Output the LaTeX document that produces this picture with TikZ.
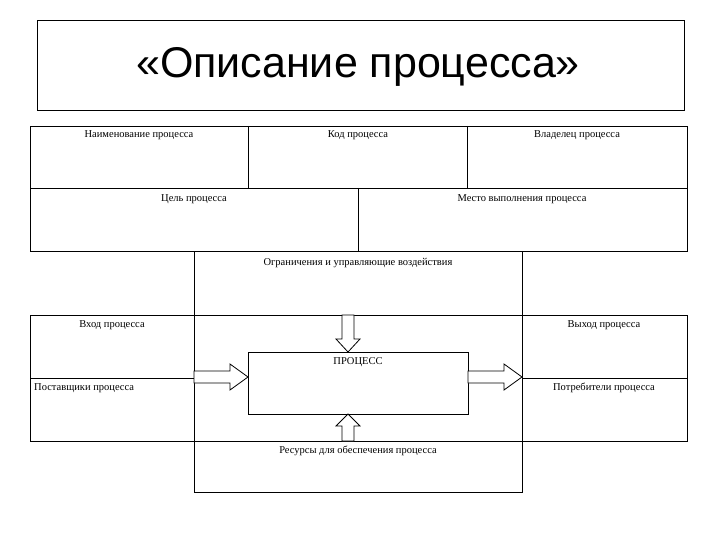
\documentclass[tikz,border=0pt]{standalone}
\usepackage{fontspec}
\setmainfont{Liberation Serif}
\newfontfamily\titlefont{Liberation Sans}
\begin{document}
\begin{tikzpicture}[x=1pt,y=-1pt,
  box/.style={draw,line width=0.8pt},
  lbl/.style={inner sep=0pt,font=\fontsize{10.5}{11}\selectfont},
  barrow/.style={draw,fill=white,line width=0.8pt}]
\useasboundingbox (0,0) rectangle (720,540);
\draw[box] (37,20) rectangle (684,110);
\node[inner sep=0pt,font=\titlefont\fontsize{43}{46}\selectfont] (title) at (358,67) {«Описание процесса»};
% rows
\draw[box] (30,126) rectangle (687,251);
\draw[box] (30,188) -- (687,188);
\draw[box] (248,126) -- (248,188);
\draw[box] (467,126) -- (467,188);
\draw[box] (358,188) -- (358,251);
\node[lbl] (n1) at (139,135) {Наименование процесса};
\node[lbl] (n2) at (358,135) {Код процесса};
\node[lbl] (n3) at (577,135) {Владелец процесса};
\node[lbl] (n4) at (194,199) {Цель процесса};
\node[lbl] (n5) at (522,199) {Место выполнения процесса};
% middle
\draw[box] (194,251) rectangle (522,492);
\draw[box] (30,315) rectangle (687,441);
\draw[box] (30,378) -- (194,378);
\draw[box] (522,378) -- (687,378);
\node[lbl] (n6) at (358,263) {Ограничения и управляющие воздействия};
\node[lbl] (n7) at (112,325) {Вход процесса};
\node[lbl] (n8) at (604,325) {Выход процесса};
\node[lbl,anchor=west] (n9) at (34,388) {Поставщики процесса};
\node[lbl] (n10) at (604,388) {Потребители процесса};
\node[lbl] (n11) at (358,451) {Ресурсы для обеспечения процесса};
% process
\draw[box] (248,352) rectangle (468,414);
\node[lbl] (proc) at (358,362) {ПРОЦЕСС};
% arrows
\draw[barrow] (342,315) -- (354,315) -- (354,339) -- (360,339) -- (348,352) -- (336,339) -- (342,339) -- cycle;
\draw[barrow] (342,441) -- (354,441) -- (354,426) -- (360,426) -- (348,414) -- (336,426) -- (342,426) -- cycle;
\draw[barrow] (194,371) -- (230,371) -- (230,364) -- (248,377) -- (230,390) -- (230,383) -- (194,383) -- cycle;
\draw[barrow] (468,371) -- (504,371) -- (504,364) -- (522,377) -- (504,390) -- (504,383) -- (468,383) -- cycle;
\end{tikzpicture}
\end{document}
